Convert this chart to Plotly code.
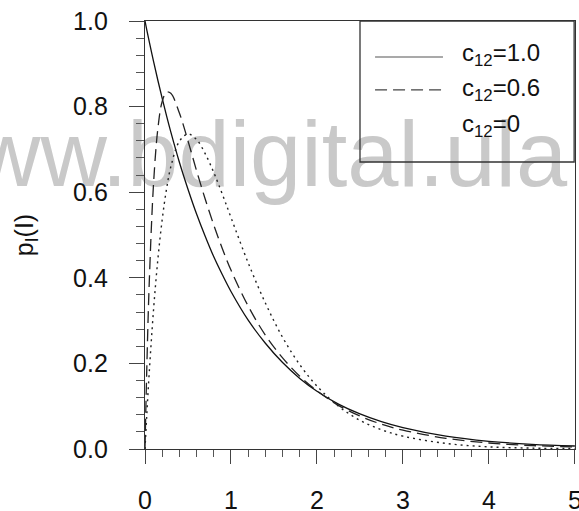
import plotly.graph_objects as go

# Intensity values I
I_vals = [0, 0.02, 0.05, 0.1, 0.15, 0.2, 0.25, 0.3, 0.4, 0.5, 0.6, 0.7, 0.8, 0.9, 1.0,
          1.2, 1.4, 1.6, 1.8, 2.0, 2.25, 2.5, 2.75, 3.0, 3.5, 4.0, 4.5, 5.0]
# c12 = 1.0 (solid)
p_c10 = [1.0, 0.980, 0.951, 0.905, 0.861, 0.819, 0.779, 0.741, 0.670, 0.607, 0.549, 0.497,
         0.449, 0.407, 0.368, 0.301, 0.247, 0.202, 0.165, 0.135, 0.105, 0.082, 0.064, 0.050,
         0.030, 0.018, 0.011, 0.007]
# c12 = 0.6 (dashed)
p_c06 = [0.0, 0.181, 0.392, 0.622, 0.749, 0.812, 0.834, 0.831, 0.785, 0.720, 0.650, 0.584,
         0.523, 0.468, 0.418, 0.334, 0.266, 0.213, 0.170, 0.136, 0.102, 0.077, 0.058, 0.044,
         0.025, 0.014, 0.008, 0.005]
# c12 = 0 (dotted)
p_c00 = [0.0, 0.077, 0.181, 0.327, 0.444, 0.536, 0.607, 0.659, 0.719, 0.736, 0.723, 0.690,
         0.646, 0.595, 0.541, 0.435, 0.341, 0.261, 0.197, 0.147, 0.100, 0.067, 0.045, 0.030,
         0.013, 0.005, 0.002, 0.001]

x_ticks = [0, 1, 2, 3, 4, 5]
y_ticks = [0.0, 0.2, 0.4, 0.6, 0.8, 1.0]
y_tick_labels = ["0.0", "0.2", "0.4", "0.6", "0.8", "1.0"]
legend_labels = ["c<sub>12</sub>=1.0", "c<sub>12</sub>=0.6", "c<sub>12</sub>=0"]
watermark = "www.bdigital.ula"

FONT = "Liberation Sans, Arial, sans-serif"

fig = go.Figure()

# watermark (beneath curves)
fig.add_trace(go.Scatter(x=[4.91], y=[0.669], mode="text", text=[watermark],
                         textposition="middle left", cliponaxis=False,
                         textfont=dict(family=FONT, size=92, color="#c9c9c9"),
                         hoverinfo="skip", showlegend=False))

fig.add_trace(go.Scatter(x=I_vals, y=p_c10, mode="lines", line_shape="spline",
                         line=dict(color="#111111", width=1.3), showlegend=False))
fig.add_trace(go.Scatter(x=I_vals, y=p_c06, mode="lines", line_shape="spline",
                         line=dict(color="#222222", width=1.3, dash="12px,6px"), showlegend=False))
fig.add_trace(go.Scatter(x=I_vals, y=p_c00, mode="lines", line_shape="spline",
                         line=dict(color="#222222", width=1.4, dash="2px,4px"), showlegend=False))

# legend box
fig.add_shape(type="rect", xref="paper", yref="paper", x0=0.5, x1=0.998, y0=0.6706, y1=1.0,
              line=dict(color="#333333", width=1.3), fillcolor="rgba(0,0,0,0)", layer="above")
fig.add_shape(type="line", xref="paper", yref="paper", x0=0.535, x1=0.693, y0=0.916, y1=0.916,
              line=dict(color="#555555", width=1.1), layer="above")
fig.add_shape(type="line", xref="paper", yref="paper", x0=0.535, x1=0.693, y0=0.839, y1=0.839,
              line=dict(color="#444444", width=1.3, dash="12px,6px"), layer="above")
for lab, yy in zip(legend_labels, [0.9206, 0.8388, 0.757]):
    fig.add_annotation(x=0.733, y=yy, xref="paper", yref="paper", text=lab, showarrow=False,
                       xanchor="left", yanchor="middle",
                       font=dict(family=FONT, size=24, color="#111111"))

fig.update_layout(
    width=579, height=511, autosize=False,
    margin=dict(l=145, r=4, t=21, b=62),
    paper_bgcolor="white", plot_bgcolor="rgba(0,0,0,0)",
    font=dict(family=FONT, size=25, color="#111111"),
)
fig.update_xaxes(range=[0, 5.001], tickvals=x_ticks, ticktext=[str(v) for v in x_ticks],
                 showgrid=False, zeroline=False, showline=True, linecolor="#333333",
                 linewidth=1.3, mirror=True, ticks="outside", ticklen=14, tickwidth=1.3,
                 tickcolor="#444444", tickfont=dict(family=FONT, size=25, color="#111111"),
                 ticklabelstandoff=15, ticklabeloverflow="allow", automargin=False,
                 minor=dict(dtick=0.2, ticks="outside", ticklen=7, tickwidth=1.1,
                            tickcolor="#555555", showgrid=False))
fig.update_yaxes(range=[0, 1], tickvals=y_ticks, ticktext=y_tick_labels,
                 showgrid=False, zeroline=False, showline=True, linecolor="#333333",
                 linewidth=1.3, mirror=True, ticks="outside", ticklen=15, tickwidth=1.3,
                 tickcolor="#444444", tickfont=dict(family=FONT, size=25, color="#111111"),
                 ticklabelstandoff=16, automargin=False,
                 title=dict(text="p<sub>I</sub>(I)", font=dict(family=FONT, size=25, color="#111111"),
                            standoff=32),
                 minor=dict(dtick=0.04, ticks="outside", ticklen=8, tickwidth=1.1,
                            tickcolor="#555555", showgrid=False))

fig.write_html("out.html")
